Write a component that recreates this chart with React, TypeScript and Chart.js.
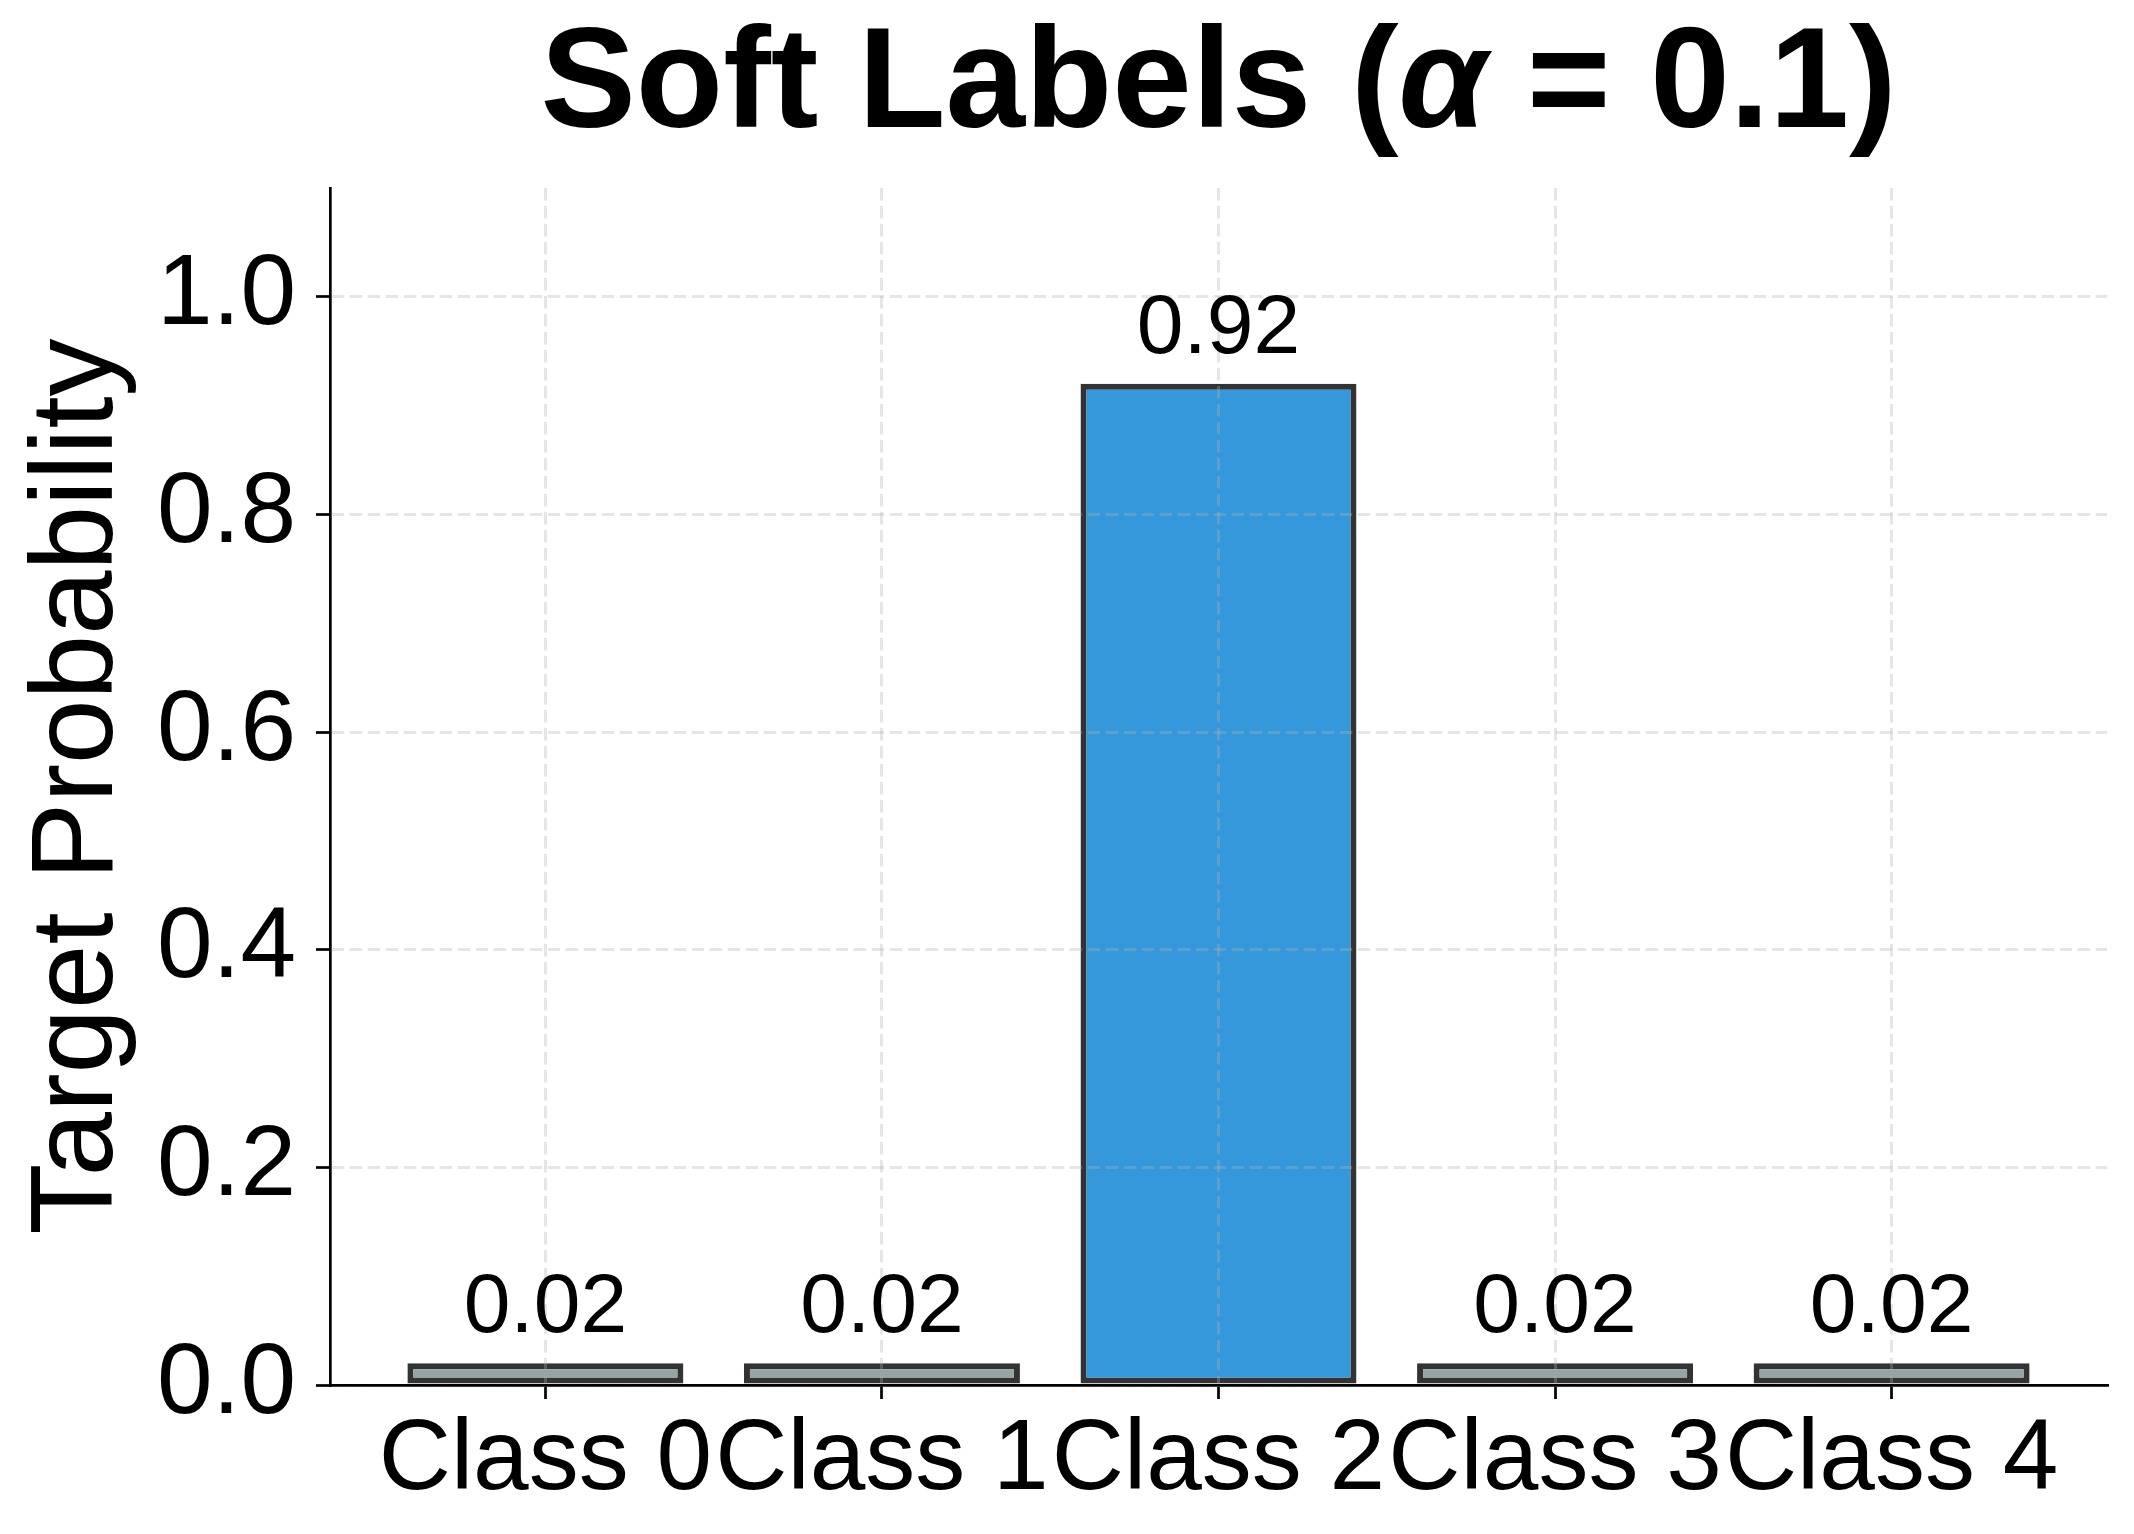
import React, { useEffect, useRef } from 'react';
import { Chart, registerables } from 'chart.js';

Chart.register(...registerables);

// data
const classLabels = ['Class 0', 'Class 1', 'Class 2', 'Class 3', 'Class 4'];
const classIndex = [0, 1, 2, 3, 4];
const softProbs = [0.02, 0.02, 0.92, 0.02, 0.02];
const barColors = ['#95a5a6', '#95a5a6', '#3498db', '#95a5a6', '#95a5a6'];
const yTicks = [0, 0.2, 0.4, 0.6, 0.8, 1.0];
const yRange = [0, 1.1];
const xRange = [-0.64, 4.64];
const titleParts = [
  { text: 'Soft Labels (', italic: false },
  { text: 'α', italic: true },
  { text: ' = 0.1)', italic: false },
];
const yAxisTitle = 'Target Probability';

const FONT = '"Liberation Sans", Arial, sans-serif';
const GRID = 'rgba(176, 176, 176, 0.32)';

// title + value labels on top of the bars
const overlayPlugin = {
  id: 'overlay',
  afterDraw(chart: Chart) {
    const { ctx, chartArea } = chart;
    const yScale = chart.scales.y;
    const meta = chart.getDatasetMeta(0);

    ctx.save();
    ctx.fillStyle = '#000';
    ctx.textAlign = 'center';
    ctx.textBaseline = 'alphabetic';
    ctx.font = `84px ${FONT}`;
    meta.data.forEach((bar: any, i: number) => {
      const y = yScale.getPixelForValue(softProbs[i]) - 31;
      ctx.fillText(softProbs[i].toFixed(2), bar.x, y);
    });

    // title, with an italic alpha
    const fontFor = (italic: boolean) => `${italic ? 'italic ' : ''}bold 143px ${FONT}`;
    const widths = titleParts.map((p) => {
      ctx.font = fontFor(p.italic);
      return ctx.measureText(p.text).width;
    });
    const total = widths.reduce((a, b) => a + b, 0);
    let x = (chartArea.left + chartArea.right) / 2 - total / 2;
    ctx.textAlign = 'left';
    titleParts.forEach((p, i) => {
      ctx.font = fontFor(p.italic);
      ctx.fillText(p.text, x, 127);
      x += widths[i];
    });
    ctx.restore();
  },
};

const App: React.FC = () => {
  const canvasRef = useRef<HTMLCanvasElement>(null);
  const chartInstance = useRef<Chart | null>(null);

  useEffect(() => {
    if (!canvasRef.current) return;

    if (chartInstance.current) {
      chartInstance.current.destroy();
    }

    const gridCommon = {
      display: true,
      color: GRID,
      lineWidth: 3,
      z: 1,
      drawTicks: true,
      tickLength: 14,
      tickColor: '#000',
      tickWidth: 2.7,
      tickBorderDash: [],
    };
    const borderCommon = {
      display: true,
      color: '#000',
      width: 2.7,
      dash: [12.5, 5.5],
      z: 2,
    };

    chartInstance.current = new Chart(canvasRef.current, {
      type: 'bar',
      data: {
        datasets: [
          {
            data: classIndex.map((x, i) => ({ x, y: softProbs[i] })),
            backgroundColor: barColors,
            borderColor: '#333333',
            borderWidth: 6,
            borderSkipped: false,
            barPercentage: 0.82,
            categoryPercentage: 1,
          },
        ],
      },
      options: {
        animation: false,
        responsive: true,
        maintainAspectRatio: false,
        devicePixelRatio: 1,
        layout: {
          padding: { top: 188, right: 27, bottom: 0, left: 0 },
        },
        plugins: {
          legend: { display: false },
          tooltip: { enabled: false },
          title: { display: false },
        },
        scales: {
          x: {
            type: 'linear',
            min: xRange[0],
            max: xRange[1],
            offset: false,
            afterBuildTicks: (s: any) => {
              s.ticks = classIndex.map((v) => ({ value: v }));
            },
            afterFit: (s: any) => {
              s.height = 149;
            },
            ticks: {
              autoSkip: false,
              maxRotation: 0,
              minRotation: 0,
              padding: 2,
              color: '#000',
              font: { family: FONT, size: 100 },
              callback: (v: any) => classLabels[Number(v)] ?? '',
            },
            grid: { ...gridCommon, offset: false },
            border: borderCommon,
          },
          y: {
            type: 'linear',
            min: yRange[0],
            max: yRange[1],
            afterBuildTicks: (s: any) => {
              s.ticks = yTicks.map((v) => ({ value: v }));
            },
            afterFit: (s: any) => {
              s.width = 330;
            },
            ticks: {
              padding: 20,
              color: '#000',
              font: { family: FONT, size: 100 },
              callback: (v: any) => Number(v).toFixed(1),
            },
            title: {
              display: true,
              text: yAxisTitle,
              color: '#000',
              font: { family: FONT, size: 116 },
              padding: { top: 10, bottom: 0 },
            },
            grid: gridCommon,
            border: borderCommon,
          },
        },
      },
      plugins: [overlayPlugin],
    } as any);

    return () => {
      if (chartInstance.current) {
        chartInstance.current.destroy();
        chartInstance.current = null;
      }
    };
  }, []);

  return (
    <div style={{ position: 'absolute', left: 0, top: 0, width: 2134, height: 1534, background: '#fff' }}>
      <canvas ref={canvasRef}></canvas>
    </div>
  );
};

export default App;
